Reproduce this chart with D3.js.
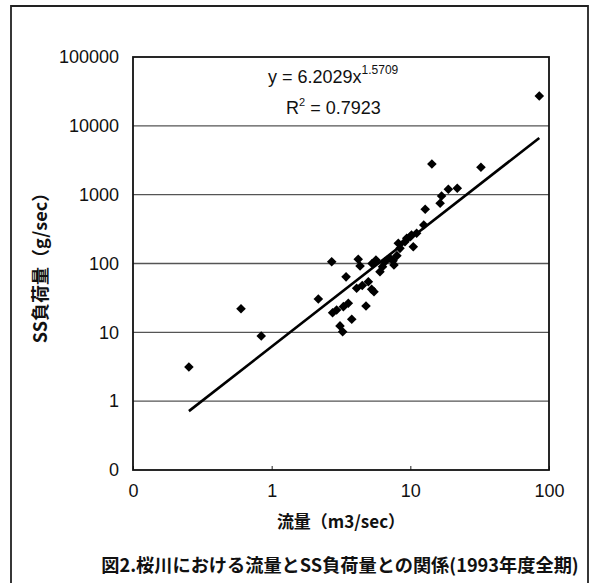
<!DOCTYPE html>
<html>
<head>
<meta charset="utf-8">
<script src="https://cdn.jsdelivr.net/npm/d3@7/dist/d3.min.js"></script>
<style>
  html, body { margin: 0; padding: 0; background: #fff; }
  svg { display: block; }
</style>
</head>
<body>
<script>
// ---- data ----
const flowX = [0.253, 0.601, 0.841, 2.17, 2.71, 2.75, 2.94, 3.11, 3.25, 3.29, 3.44, 3.57, 3.78,
  4.10, 4.21, 4.34, 4.5, 4.79, 4.98, 5.26, 5.3, 5.47, 5.65, 6.04, 6.3, 6.56, 7.13, 7.5, 7.62,
  8.0, 8.19, 8.42, 9.15, 9.42, 10.0, 10.2, 10.5, 11.1, 12.5, 12.8, 14.3, 16.4, 16.8, 18.8, 21.8, 32.3, 85.1];
const ssLoad = [3.14, 22.0, 8.85, 30.5, 106, 19.3, 21.1, 12.4, 10.2, 23.6, 64, 26.4, 15.5,
  43.6, 115, 92, 48, 24.1, 54.4, 42.2, 100, 38.9, 112, 76, 90, 106, 119, 110, 95,
  130, 197, 166, 207, 232, 245, 260, 175, 275, 363, 613, 2790, 750, 957, 1197, 1238, 2500, 27150];
const xTicks = [0.1, 1, 10, 100];
const yTicks = [0.1, 1, 10, 100, 1000, 10000, 100000];
const fitA = 6.2029, fitB = 1.5709, fitR2 = 0.7923;
const xTitle = "流量（m3/sec）";
const yTitle = "SS負荷量（g/sec）";
const caption = "図2.桜川における流量とSS負荷量との関係(1993年度全期)";

// ---- chart ----
const W = 591, H = 583;
const svg = d3.select("body").append("svg").attr("width", W).attr("height", H);
svg.append("rect").attr("width", W).attr("height", H).attr("fill", "#fff");

// outer figure frame (open at the bottom)
svg.append("path")
  .attr("d", "M11,583 L11,6 L588,6 L588,583")
  .attr("fill", "none").attr("stroke", "#222").attr("stroke-width", 1.8);

const L = 133, R = 549, T = 57, B = 470;
const x = d3.scaleLog().domain([0.1, 100]).range([L, R]);
const y = d3.scaleLog().domain([0.1, 100000]).range([B, T]);
const fmt = d3.format("d");
const latin = "'Liberation Sans', Arial, sans-serif";
const cjk = "'Noto Sans CJK JP', 'Noto Sans CJK SC', sans-serif";

// gridlines
svg.append("g").selectAll("line").data(yTicks.filter(v => v > 0.1 && v < 100000)).join("line")
  .attr("x1", L).attr("x2", R)
  .attr("y1", d => y(d)).attr("y2", d => y(d))
  .attr("stroke", "#555").attr("stroke-width", 1.3);

// x axis (inside ticks)
const xAxis = svg.append("g").attr("transform", `translate(0,${B})`)
  .call(d3.axisBottom(x).tickValues(xTicks).tickFormat(fmt).tickSize(-4).tickPadding(14));
xAxis.select(".domain").remove();
xAxis.selectAll("line").attr("stroke", "#222");
xAxis.selectAll("text").attr("font-family", latin).attr("font-size", 18).attr("fill", "#111");

// y axis
const yAxis = svg.append("g").attr("transform", `translate(${L},0)`)
  .call(d3.axisLeft(y).tickValues(yTicks).tickFormat(fmt).tickSize(0).tickPadding(14));
yAxis.select(".domain").remove();
yAxis.selectAll("text").attr("font-family", latin).attr("font-size", 18).attr("fill", "#111");

// plot frame
svg.append("rect").attr("x", L).attr("y", T).attr("width", R - L).attr("height", B - T)
  .attr("fill", "none").attr("stroke", "#111").attr("stroke-width", 1.8);

// fitted power line
const ex = d3.extent(flowX);
const line = d3.line().x(d => x(d)).y(d => y(fitA * Math.pow(d, fitB)));
svg.append("path").datum(ex).attr("d", line)
  .attr("fill", "none").attr("stroke", "#000").attr("stroke-width", 2.6);

// points
const sym = d3.symbol().type(d3.symbolSquare).size(46);
svg.append("g").selectAll("path").data(flowX.map((v, i) => [v, ssLoad[i]])).join("path")
  .attr("d", sym)
  .attr("transform", d => `translate(${x(d[0])},${y(d[1])}) rotate(45)`)
  .attr("fill", "#000");

// equation
const eq = svg.append("text").attr("x", 268).attr("y", 83)
  .attr("font-family", latin).attr("font-size", 18).attr("fill", "#111");
eq.append("tspan").text("y = " + fitA.toFixed(4) + "x");
eq.append("tspan").attr("font-size", 12).attr("dy", -9).text(fitB.toFixed(4));
const r2 = svg.append("text").attr("x", 286).attr("y", 114)
  .attr("font-family", latin).attr("font-size", 18).attr("fill", "#111");
r2.append("tspan").text("R");
r2.append("tspan").attr("font-size", 11).attr("dy", -8).text("2");
r2.append("tspan").attr("dy", 8).text(" = " + fitR2.toFixed(4));

// axis titles
svg.append("text").attr("x", (L + R) / 2).attr("y", 528).attr("text-anchor", "middle")
  .attr("font-family", cjk).attr("font-weight", "bold").attr("font-size", 17).attr("fill", "#111")
  .text(xTitle);
svg.append("text").attr("transform", `translate(47,${(T + B) / 2}) rotate(-90)`)
  .attr("text-anchor", "middle")
  .attr("font-family", cjk).attr("font-weight", "bold").attr("font-size", 18).attr("fill", "#111")
  .text(yTitle);

// caption
svg.append("text").attr("x", 340).attr("y", 572).attr("text-anchor", "middle")
  .attr("font-family", cjk).attr("font-weight", "bold").attr("font-size", 18.2).attr("fill", "#111")
  .text(caption);
</script>
</body>
</html>
